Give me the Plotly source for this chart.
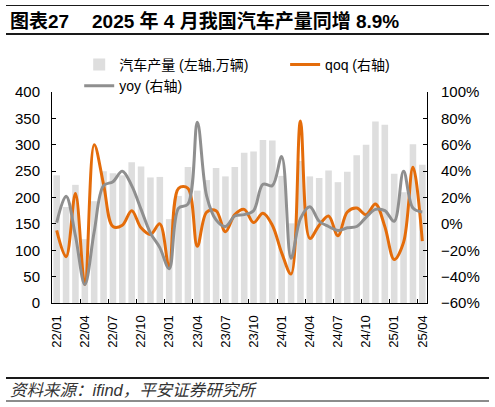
import plotly.graph_objects as go

# 月份
mois = ['22/01', '22/02', '22/03', '22/04', '22/05', '22/06', '22/07', '22/08', '22/09', '22/10', '22/11', '22/12',
        '23/01', '23/02', '23/03', '23/04', '23/05', '23/06', '23/07', '23/08', '23/09', '23/10', '23/11', '23/12',
        '24/01', '24/02', '24/03', '24/04', '24/05', '24/06', '24/07', '24/08', '24/09', '24/10', '24/11', '24/12',
        '25/01', '25/02', '25/03', '25/04']

# 汽车产量 (万辆)
production = [242, 182, 224, 121, 193, 250, 246, 242, 267, 259, 238, 239,
              159, 203, 258, 213, 233, 256, 240, 258, 285, 287, 309, 308,
              241, 151, 269, 240, 237, 251, 229, 249, 280, 300, 344, 338,
              245, 210, 301, 262]

# 环比 qoq (%)
qoq = [-5, -25, 23, -46, 60, 30, -2, -1, 10, -3, -8, 0,
       -33, 27, 27, -17, 9, 10, -6, 7, 11, 1, 8, -1,
       -22, -38, 78, -11, -1, 6, -9, 9, 12, 7, 15, -2,
       -27, -14, 43, -13]

# 同比 yoy (%)
yoy = [1, 21, -9, -46, -6, 29, 32, 40, 29, 11, -7, -18,
       -34, 12, 15, 77, 21, 3, -2, 6, 7, 10, 30, 29,
       51, -26, 4, 13, 2, -2, -5, -3, -2, 5, 11, 10,
       2, 40, 12, 9]

police = "Liberation Sans, Noto Sans CJK SC"
orange = "#E46C0A"
gris = "#8F8F8F"

fig = go.Figure()
fig.add_trace(go.Bar(x=mois, y=production, name="汽车产量 (左轴,万辆)",
                     marker=dict(color="#DEDEDE", line=dict(width=0)), legend="legend"))
fig.add_trace(go.Scatter(x=mois, y=qoq, name="qoq (右轴)", yaxis="y2", mode="lines",
                         line=dict(color=orange, width=3, shape="spline", smoothing=1),
                         legend="legend2"))
fig.add_trace(go.Scatter(x=mois, y=yoy, name="yoy (右轴)", yaxis="y2", mode="lines",
                         line=dict(color=gris, width=3, shape="spline", smoothing=1),
                         legend="legend"))

leg = dict(orientation="v", xref="container", yref="container", xanchor="left", yanchor="top",
           font=dict(size=14), bgcolor="rgba(0,0,0,0)", tracegroupgap=0, itemwidth=30)

fig.update_layout(
    width=495, height=407,
    margin=dict(l=52, r=68, t=92, b=104, autoexpand=False),
    paper_bgcolor="white", plot_bgcolor="white",
    font=dict(family=police, size=14, color="black"),
    bargap=0.3,
    showlegend=True,
    legend=dict(leg, x=0.16, y=0.88),
    legend2=dict(leg, x=0.576, y=0.88),
    xaxis=dict(type="category", range=[-0.5, 39.5], tickmode="array",
               tickvals=mois[::3], ticktext=mois[::3], tickangle=-90,
               tickson="boundaries", ticks="inside", ticklen=4, tickcolor="black",
               showline=True, linecolor="black", linewidth=1, showgrid=False,
               tickfont=dict(size=13), ticklabelstandoff=6),
    yaxis=dict(range=[0, 400], dtick=50, ticks="inside", ticklen=4, tickcolor="black",
               showline=True, linecolor="black", linewidth=1, showgrid=False,
               zeroline=False, tickfont=dict(size=15), ticklabelstandoff=8),
    yaxis2=dict(range=[-60, 100], dtick=20, ticksuffix="%", overlaying="y", side="right",
                ticks="inside", ticklen=4, tickcolor="black",
                showline=True, linecolor="black", linewidth=1, showgrid=False,
                zeroline=False, tickfont=dict(size=15), ticklabelstandoff=10),
)


# positions en pixels -> coordonnées paper
def px(xp, yp):
    return (xp - 52) / 375, (303 - yp) / 211


annots = []
for txt, xp, yp, sz, col in [("<b>图表27</b>", 8, 21, 19, "black"),
                             ("<b>2025 年 4 月我国汽车产量同增 8.9%</b>", 90, 21, 19, "black"),
                             ("<i>资料来源：ifind，平安证券研究所</i>", 8, 390, 16.5, "#333333")]:
    x, y = px(xp, yp)
    annots.append(dict(text=txt, x=x, y=y, xref="paper", yref="paper", xanchor="left",
                       yanchor="middle", showarrow=False, font=dict(size=sz, color=col)))
fig.update_layout(annotations=annots)

for yp, w in [(5.5, 1.2), (34, 1.8), (378, 1.8), (401, 1.2)]:
    x0, y = px(6, yp)
    x1, _ = px(489, yp)
    fig.add_shape(type="line", xref="paper", yref="paper", x0=x0, x1=x1, y0=y, y1=y,
                  line=dict(color="#1a1a1a", width=w))

fig.write_html("out.html", config={"displayModeBar": False},
               post_script="document.body.style.margin='0';")
